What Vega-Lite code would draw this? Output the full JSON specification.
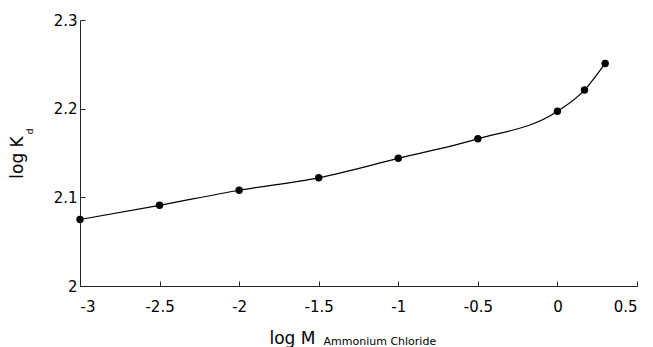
{
  "$schema": "https://vega.github.io/schema/vega-lite/v6.json",
  "autosize": {"type": "none"},
  "width": 557,
  "height": 266,
  "padding": {"left": 80, "top": 20, "right": 16, "bottom": 61},
  "background": "white",
  "config": {
    "view": {"stroke": null},
    "font": "DejaVu Sans",
    "axis": {
      "grid": false,
      "domainColor": "#222222",
      "domainWidth": 1,
      "tickColor": "#222222",
      "tickSize": -5,
      "labelColor": "black",
      "titleColor": "black",
      "labelFont": "DejaVu Sans",
      "titleFont": "DejaVu Sans",
      "labelFontSize": 15,
      "titleFontWeight": "normal"
    }
  },
  "data": {
    "values": [
      {"logM": -3, "logKd": 2.075},
      {"logM": -2.5, "logKd": 2.091},
      {"logM": -2, "logKd": 2.108},
      {"logM": -1.5, "logKd": 2.122},
      {"logM": -1, "logKd": 2.144},
      {"logM": -0.5, "logKd": 2.166},
      {"logM": 0, "logKd": 2.197},
      {"logM": 0.17, "logKd": 2.221},
      {"logM": 0.3, "logKd": 2.251}
    ]
  },
  "layer": [
    {
      "mark": {"type": "line", "interpolate": "monotone", "color": "black", "strokeWidth": 1.2},
      "encoding": {
        "x": {
          "field": "logM", "type": "quantitative",
          "scale": {"domain": [-3, 0.5], "nice": false, "zero": false},
          "axis": {
            "values": [-3, -2.5, -2, -1.5, -1, -0.5, 0, 0.5],
            "labelExpr": "datum.value + ''",
            "labelPadding": 18,
            "title": "log M",
            "titleFontSize": 17,
            "titleAlign": "center",
            "titleBaseline": "alphabetic",
            "titleX": 212,
            "titleY": 57
          }
        },
        "y": {
          "field": "logKd", "type": "quantitative",
          "scale": {"domain": [2, 2.3], "nice": false, "zero": false},
          "axis": {
            "values": [2, 2.1, 2.2, 2.3],
            "labelExpr": "datum.value + ''",
            "labelPadding": 8,
            "title": "log K",
            "titleFontSize": 17,
            "titleAngle": 270,
            "titleAlign": "center",
            "titleBaseline": "alphabetic",
            "titleX": -58,
            "titleY": 137
          }
        }
      }
    },
    {
      "mark": {"type": "point", "filled": true, "color": "black", "opacity": 1, "size": 55},
      "encoding": {
        "x": {
          "field": "logM", "type": "quantitative",
          "scale": {"domain": [-3, 0.5], "nice": false, "zero": false},
          "axis": {
            "orient": "bottom",
            "labels": false, "ticks": false, "domain": false,
            "title": "Ammonium Chloride",
            "titleFontSize": 11,
            "titleAlign": "left",
            "titleBaseline": "alphabetic",
            "titleX": 243,
            "titleY": 58
          }
        },
        "y": {
          "field": "logKd", "type": "quantitative",
          "scale": {"domain": [2, 2.3], "nice": false, "zero": false},
          "axis": {
            "orient": "left",
            "labels": false, "ticks": false, "domain": false,
            "title": "d",
            "titleFontSize": 9,
            "titleAngle": 270,
            "titleAlign": "center",
            "titleBaseline": "alphabetic",
            "titleX": -48,
            "titleY": 111
          }
        }
      }
    }
  ],
  "resolve": {"scale": {"x": "independent", "y": "independent"}, "axis": {"x": "independent", "y": "independent"}}
}
